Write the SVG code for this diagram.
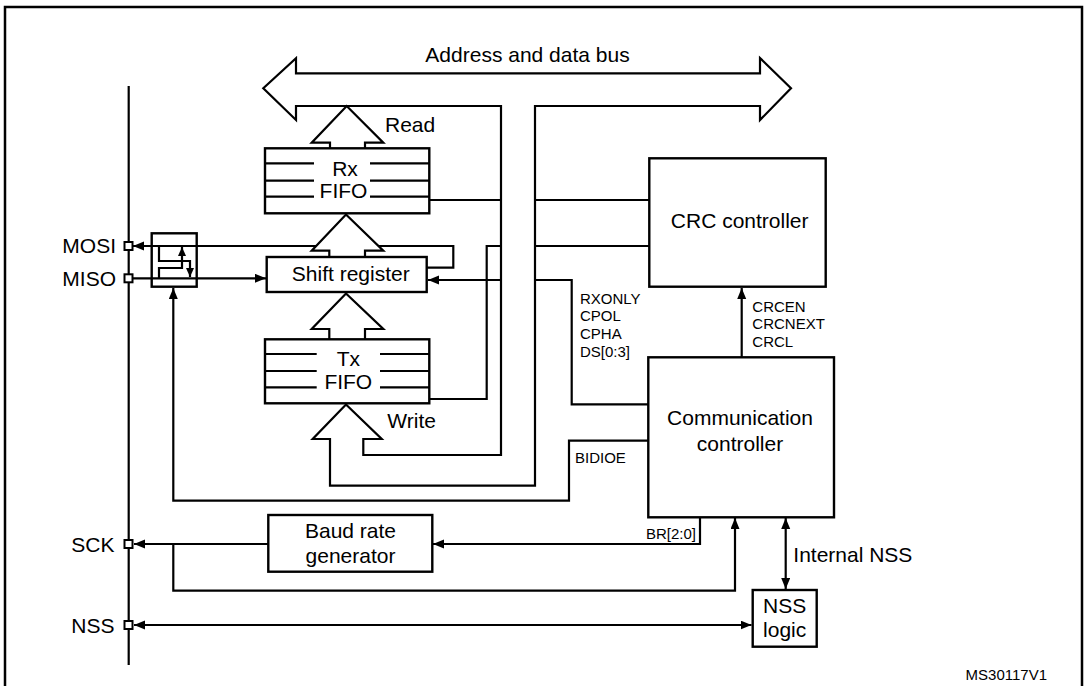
<svg xmlns="http://www.w3.org/2000/svg" width="1086" height="686" viewBox="0 0 1086 686">
<defs>
<style>
.ln{fill:none;stroke:#000;stroke-width:2.2;stroke-linejoin:miter}
.box{fill:#fff;stroke:#000;stroke-width:2.4}
.hollow{fill:#fff;stroke:#000;stroke-width:2.2}
.pin{fill:#fff;stroke:#000;stroke-width:2}
.t{font-family:"Liberation Sans",Arial,sans-serif;font-size:21px;fill:#000}
.s{font-family:"Liberation Sans",Arial,sans-serif;font-size:15px;fill:#000}
.m{text-anchor:middle}
.e{text-anchor:end}
</style>
<marker id="ah" markerUnits="userSpaceOnUse" markerWidth="12" markerHeight="10" refX="11" refY="4.5" orient="auto-start-reverse">
<path d="M0,0 L11,4.5 L0,9 z" fill="#000"/>
</marker>
<marker id="sh" markerUnits="userSpaceOnUse" markerWidth="10" markerHeight="9" refX="9" refY="4" orient="auto-start-reverse">
<path d="M0,0 L9,4 L0,8 z" fill="#000"/>
</marker>
</defs>
<rect width="1086" height="686" fill="#fff"/>
<rect x="5" y="7" width="1077" height="700" fill="none" stroke="#000" stroke-width="2.5"/>

<g id="connectors">
<line class="ln" x1="128.7" y1="86" x2="128.7" y2="665"/>
<path class="ln" d="M426.7,267.7 H453.3 V246 H133" marker-end="url(#ah)"/>
<path class="ln" d="M132.3,278.3 H266" marker-end="url(#ah)"/>
<path class="ln" d="M501,280 H428" marker-end="url(#ah)"/>
<path class="ln" d="M429,200 H501"/>
<path class="ln" d="M429,399 H486.7 V246 H501"/>
<path class="ln" d="M535,200 H649"/>
<path class="ln" d="M535,246 H649"/>
<path class="ln" d="M648,404.3 H571.7 V280 H535"/>
<path class="ln" d="M648,440.7 H569 V500.7 H173.3 V288" marker-end="url(#ah)"/>
<path class="ln" d="M741.7,357 V288" marker-end="url(#ah)"/>
<path class="ln" d="M700,517 V544 H433" marker-end="url(#ah)"/>
<path class="ln" d="M268.3,544 H134" marker-end="url(#ah)"/>
<path class="ln" d="M173.3,544 V590.7 H735 V518" marker-end="url(#ah)"/>
<path class="ln" d="M785.7,518 V589" marker-start="url(#ah)" marker-end="url(#ah)"/>
<path class="ln" d="M134,625 H751.5" marker-start="url(#ah)" marker-end="url(#ah)"/>
<path class="hollow" d="M330,148.3 V142.7 H311.7 L346.7,106 L383.3,142.7 H365 V148.3"/>
<path class="hollow" d="M329.3,257 V250.7 H311.7 L346,214.5 L383.3,250.7 H365 V257"/>
<path class="hollow" d="M329.3,339.3 V329 H311.7 L346,293.5 L383.3,329 H365 V339.3"/>
</g>

<g id="bus">
<path class="ln" d="M501,455 V106 H296 V120 L263.3,88.3 L296,58.3 V73.3 H760 V58 L791,88.3 L760,120 V106 H535 V485.7 H330 V439 H312.7 L346,404.5 L381.7,439 H363.3 V455 Z"/>
<text class="t m" x="527.5" y="62">Address and data bus</text>
<text class="t" x="385" y="131.7">Read</text>
<text class="t" x="387.3" y="427.7">Write</text>
</g>

<g id="pins">
<rect class="pin" x="124.5" y="242" width="8" height="8"/>
<rect class="pin" x="124.5" y="274.3" width="8" height="8"/>
<rect class="pin" x="124.5" y="540" width="8" height="8"/>
<rect class="pin" x="124.5" y="621" width="8" height="8"/>
<text class="t e" x="116" y="253.3">MOSI</text>
<text class="t e" x="116" y="285.5">MISO</text>
<text class="t e" x="114.5" y="551.7">SCK</text>
<text class="t e" x="114.5" y="632.5">NSS</text>
</g>

<g id="mux">
<rect x="151.7" y="233.3" width="45" height="53.4" fill="none" stroke="#000" stroke-width="2.4"/>
<path class="ln" d="M159,246 V261 H190 V277" marker-end="url(#sh)"/>
<path class="ln" d="M159,278.3 V268 H182 V247" marker-end="url(#sh)"/>
</g>

<g id="rx-fifo">
<rect class="box" x="265" y="148.3" width="164.3" height="65"/>
<path class="ln" d="M265,163.3 H314 M370,163.3 H429.3 M265,180.7 H314 M370,180.7 H429.3 M265,196.7 H314 M370,196.7 H429.3"/>
<text class="t m" x="345" y="175.5">Rx</text>
<text class="t m" x="343.5" y="197.5">FIFO</text>
</g>

<g id="shift-register">
<rect class="box" x="266.7" y="257" width="160" height="35"/>
<text class="t m" x="350.8" y="280.5">Shift register</text>
</g>

<g id="tx-fifo">
<rect class="box" x="265" y="339.3" width="164.3" height="64"/>
<path class="ln" d="M265,354 H316.7 M380,354 H429.3 M265,371 H316.7 M380,371 H429.3 M265,387.3 H316.7 M380,387.3 H429.3"/>
<text class="t m" x="348.3" y="365.5">Tx</text>
<text class="t m" x="348.3" y="388.5">FIFO</text>
</g>

<g id="crc-controller">
<rect class="box" x="649.3" y="158.3" width="176.4" height="128.4"/>
<text class="t m" x="739.7" y="228">CRC controller</text>
<text class="s" x="752.3" y="311.7">CRCEN</text>
<text class="s" x="752.3" y="329.3">CRCNEXT</text>
<text class="s" x="752.3" y="346.5">CRCL</text>
</g>

<g id="comm-controller">
<rect class="box" x="648.3" y="357.3" width="185.7" height="160"/>
<text class="t m" x="740" y="425">Communication</text>
<text class="t m" x="740" y="451">controller</text>
<text class="s" x="580" y="303.5">RXONLY</text>
<text class="s" x="580" y="321">CPOL</text>
<text class="s" x="580" y="338.5">CPHA</text>
<text class="s" x="580" y="356.5">DS[0:3]</text>
<text class="s" x="575" y="462.5">BIDIOE</text>
<text class="s e" x="696" y="538.5">BR[2:0]</text>
</g>

<g id="baud-rate-generator">
<rect class="box" x="268.3" y="515" width="164" height="56.7"/>
<text class="t m" x="350.5" y="537.5">Baud rate</text>
<text class="t m" x="350.5" y="562.5">generator</text>
</g>

<g id="nss-logic">
<rect class="box" x="752.7" y="590" width="64" height="56.7"/>
<text class="t m" x="784.7" y="613">NSS</text>
<text class="t m" x="784.7" y="637">logic</text>
<text class="t" x="793.3" y="561.5">Internal NSS</text>
</g>

<text class="s e" x="1047" y="680">MS30117V1</text>
</svg>
